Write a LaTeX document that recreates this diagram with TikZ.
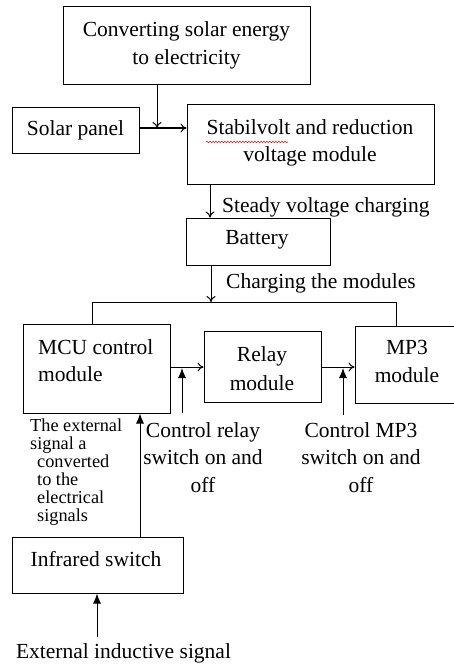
\documentclass[tikz,border=0pt]{standalone}
\usepackage{fontspec}
\setmainfont{Liberation Serif}
\usetikzlibrary{arrows.meta,decorations.pathmorphing}
\definecolor{spellred}{RGB}{220,40,40}
\begin{document}
\begin{tikzpicture}[x=1pt,y=-1pt,
  box/.style={draw,line width=1pt,inner sep=0pt},
  lbl/.style={inner sep=0pt,font=\fontsize{21.5}{27.5}\selectfont,align=center},
  small/.style={inner sep=0pt,font=\fontsize{18.3}{18}\selectfont,align=left},
  ln/.style={line width=1pt},
  thin arrow/.style={ln,-{To[length=6pt,width=9pt]}},
  up arrow/.style={ln,-{Latex[length=10pt,width=8pt]}},
  squiggle/.style={spellred,line width=0.6pt,decorate,decoration={snake,amplitude=0.8pt,segment length=3pt}}]
\useasboundingbox (0,0) rectangle (454,666);
\fill[white] (0,0) rectangle (454,666);
% boxes
\node[box,minimum width=247pt,minimum height=78pt] (conv) at (186.5,46) {};
\node[lbl] at (186.5,31) {Converting solar energy};
\node[lbl] at (186.5,59) {to electricity};
\node[box,minimum width=127pt,minimum height=45pt] (solar) at (75.5,130.5) {};
\node[lbl] at (75.5,130) {Solar panel};
\node[box,minimum width=247pt,minimum height=79pt] (stab) at (310.5,144.5) {};
\node[lbl] (stabtxt) at (310,127) {Stabilvolt and reduction};
\node[lbl] at (310,156) {voltage module};
\draw[squiggle] (206,142) -- (288,142);
\node[box,minimum width=144pt,minimum height=47pt] (bat) at (258,241.5) {};
\node[lbl] at (257,240) {Battery};
\node[box,minimum width=147pt,minimum height=89pt] (mcu) at (96.5,368.5) {};
\node[lbl,align=left,anchor=west] at (38,347) {MCU control};
\node[lbl,align=left,anchor=west] at (38,374) {module};
\node[box,minimum width=117pt,minimum height=71pt] (relay) at (262.5,366.5) {};
\node[lbl] at (262,356) {Relay};
\node[lbl] at (262,383) {module};
\node[box,minimum width=102pt,minimum height=77pt] (mp3) at (406,364.5) {};
\node[lbl] at (407,347) {MP3};
\node[lbl] at (407,375) {module};
\node[box,minimum width=171pt,minimum height=56pt] (ir) at (97.5,565) {};
\node[lbl] at (96,559) {Infrared switch};
% labels
\node[lbl,anchor=west] (steady) at (222,207) {Steady voltage charging};
\node[lbl,anchor=west] (charge) at (226,283) {Charging the modules};
\node[lbl] (ctrlrelay) at (203,457.5) {Control relay\\switch on and\\off};
\node[lbl] (ctrlmp3) at (361,457.5) {Control MP3\\switch on and\\off};
\node[small,anchor=north west] (ext) at (30,419) {The external\\signal a\\\hspace*{7pt}converted\\\hspace*{7pt}to the\\\hspace*{7pt}electrical\\\hspace*{7pt}signals};
\node[lbl] (extind) at (123.5,653) {External inductive signal};
% coordinates
\coordinate (j1) at (157,128);
\coordinate (j2) at (211,302);
\coordinate (jl) at (92,302);
\coordinate (jr) at (396,302);
\coordinate (c1) at (182,413);
\coordinate (c2) at (343,415);
\coordinate (s0) at (97,637);
% connectors
\draw[thin arrow] (conv.south -| j1) -- (j1);
\draw[thin arrow] (solar.east |- j1) -- (stab.west |- j1);
\draw[thin arrow] (stab.south -| 210,0) -- (bat.north -| 210,0);
\draw[thin arrow] (bat.south -| j2) -- (j2);
\draw[ln] (mcu.north -| jl) -- (jl) -- (jr) -- (mp3.north -| jr);
\draw[thin arrow] (mcu.east |- 0,367) -- (relay.west |- 0,367);
\draw[thin arrow] (relay.east |- 0,367) -- (mp3.west |- 0,367);
\draw[up arrow] (c1) -- (182,368);
\draw[up arrow] (c2) -- (343,368);
\draw[up arrow] (ir.north -| 140,0) -- (mcu.south -| 140,0);
\draw[up arrow] (s0) -- (ir.south -| s0);
\end{tikzpicture}
\end{document}
